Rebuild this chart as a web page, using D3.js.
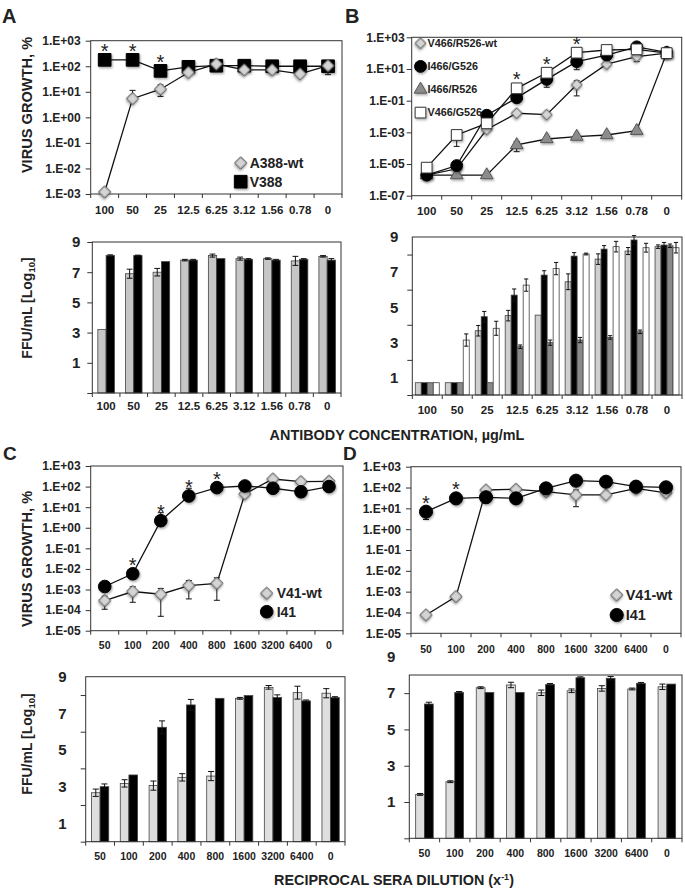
<!DOCTYPE html>
<html><head><meta charset="utf-8">
<script src="https://cdn.jsdelivr.net/npm/d3@7"></script>
<style>
body{margin:0;background:#fff;}
svg{display:block;font-family:"Liberation Sans",Arial,Helvetica,sans-serif;}
</style></head><body>
<svg id="c" width="685" height="889"></svg>
<script>
// ---------- categories ----------
const concLabels = ["100","50","25","12.5","6.25","3.12","1.56","0.78","0"];
const dilLabels  = ["50","100","200","400","800","1600","3200","6400","0"];

// ---------- Panel A (virus growth %) ----------
const aWt     = [1.2e-3, 5.4, 12.6, 57, 122, 72, 72, 50, 105];
const aWtSd   = [0, 6, 6, 5, 20, 5, 5, 5, 58];
const aV388   = [178, 178, 66, 95, 105, 105, 100, 100, 100];
const aV388Sd = [0, 0, 0, 0, 0, 0, 0, 0, 0];
const aStars  = ["100","50","25"];
// Panel A (FFU/mL log10)
const aBarWt     = [3.2, 6.9, 7.0, 7.8, 8.1, 7.9, 7.9, 7.75, 8.05];
const aBarWtSd   = [0, 0.3, 0.25, 0.05, 0.1, 0.1, 0.05, 0.3, 0.05];
const aBarV388   = [8.1, 8.1, 7.7, 7.8, 7.9, 7.85, 7.8, 7.85, 7.8];
const aBarV388Sd = [0.05, 0.03, 0, 0.05, 0, 0.05, 0.05, 0.05, 0.1];

// ---------- Panel B ----------
const bWt   = [2e-6, 5e-6, 1.5e-3, 1.6e-2, 1.3e-2, 1.0, 20, 60, 100];
const bWtSd = [0, 0, 0, 0, 0, 0.8, 0, 31, 0];
const bIG   = [2e-6, 8e-6, 1.2e-2, 0.15, 2.2, 29, 76, 250, 110];
const bIGSd = [0, 4e-6, 0, 0, 1.5, 20, 0, 0, 0];
const bIR   = [2e-6, 2e-6, 2e-6, 1.6e-4, 3.8e-4, 5.4e-4, 6.8e-4, 1.26e-3, 100];
const bIRSd = [0, 0, 0, 1e-4, 0, 0, 0, 0, 0];
const bVG   = [5.9e-6, 6.8e-4, 3.7e-3, 0.6, 5.8, 107, 158, 174, 100];
const bVGSd = [0, 5.5e-4, 0, 0, 0, 0, 0, 0, 0];
const bStars = ["12.5","6.25","3.12"];
const bBarWt   = [0.7, 0.7, 3.66, 4.52, 4.55, 6.45, 7.74, 8.2, 8.45];
const bBarWtSd = [0, 0, 0.3, 0.3, 0, 0.45, 0.3, 0.2, 0.1];
const bBarIG   = [0.7, 0.7, 4.46, 5.69, 6.83, 7.91, 8.31, 8.83, 8.54];
const bBarIGSd = [0, 0, 0.3, 0.35, 0.25, 0.2, 0.2, 0.25, 0.15];
const bBarIR   = [0.7, 0.7, 0.7, 2.75, 2.98, 3.13, 3.28, 3.6, 8.5];
const bBarIRSd = [0, 0, 0, 0.1, 0.15, 0.15, 0.1, 0.1, 0.1];
const bBarVG   = [0.7, 3.13, 3.8, 6.26, 7.2, 8.03, 8.45, 8.39, 8.39];
const bBarVGSd = [0, 0.35, 0.4, 0.35, 0.35, 0.05, 0.3, 0.25, 0.3];

// ---------- Panel C ----------
const cWt    = [2.9e-4, 8e-4, 5.9e-4, 1.55e-3, 2e-3, 44, 234, 174, 180];
const cWtSd  = [1.8e-4, 5.6e-4, 5.4e-4, 1.2e-3, 1.7e-3, 0, 0, 0, 0];
const cI41   = [1.4e-3, 5.8e-3, 2.2, 35, 89, 107, 83, 56, 100];
const cI41Sd = [0, 0, 3.2, 48, 0, 0, 0, 0, 0];
const cStars = ["100","200","400","800"];
const cBarWt    = [2.67, 3.18, 3.06, 3.51, 3.58, 7.82, 8.42, 8.13, 8.1];
const cBarWtSd  = [0.2, 0.2, 0.25, 0.2, 0.25, 0.05, 0.1, 0.35, 0.25];
const cBarI41   = [3.0, 3.64, 6.24, 7.46, 7.82, 7.97, 7.86, 7.68, 7.86];
const cBarI41Sd = [0.15, 0, 0.35, 0.3, 0, 0, 0.15, 0.05, 0.05];

// ---------- Panel D ----------
const dWt    = [7.6e-5, 5.8e-4, 76, 82, 63, 44, 44, 91, 56];
const dWtSd  = [0, 0, 0, 0, 0, 32, 0, 0, 0];
const dI41   = [6.9, 30, 34, 30, 91, 213, 190, 110, 102];
const dI41Sd = [4, 0, 0, 0, 0, 0, 0, 0, 0];
const dStars = ["50","100"];
const dBarWt    = [1.42, 2.12, 7.3, 7.45, 7.02, 7.13, 7.26, 7.23, 7.35];
const dBarWtSd  = [0.05, 0.05, 0.05, 0.15, 0.15, 0.1, 0.15, 0.05, 0.15];
const dBarI41   = [6.4, 7.04, 7.04, 7.04, 7.48, 7.85, 7.82, 7.54, 7.5];
const dBarI41Sd = [0.1, 0.05, 0, 0, 0.05, 0.05, 0.1, 0.05, 0];

// ---------- drawing ----------
const svg = d3.select("#c");
const defs = svg.append("defs");
defs.append("filter").attr("id","sh").attr("x","-60%").attr("y","-60%").attr("width","220%").attr("height","220%")
  .append("feDropShadow").attr("dx",1).attr("dy",1.5).attr("stdDeviation",1).attr("flood-color","#000").attr("flood-opacity",0.35);

const INK = "#222";
function fmtE(v){
  const e = Math.round(Math.log10(v));
  return "1.E" + (e >= 0 ? "+" : "-") + String(Math.abs(e)).padStart(2,"0");
}
function symPath(shape, size){
  const t = {square:d3.symbolSquare, diamond:d3.symbolSquare, circle:d3.symbolCircle, triangle:d3.symbolTriangle}[shape];
  return d3.symbol().type(t).size(size)();
}
function marker(g, shape, size, fill, stroke, cx, cy){
  g.append("path").attr("d", symPath(shape, size))
    .attr("transform", `translate(${cx},${cy})` + (shape==="diamond" ? " rotate(45)" : ""))
    .attr("fill", fill).attr("stroke", stroke).attr("stroke-width", 1)
    .attr("filter","url(#sh)");
}
function styleAxis(sel, fs){
  sel.select(".domain").remove();
  sel.selectAll("text").attr("font-size", fs).attr("font-weight","bold").attr("fill", INK)
     .attr("font-family",'"Liberation Sans",Arial,sans-serif');
  sel.selectAll("line").attr("stroke","#333");
}

function xAxisBand(g, x, yBase, fs, labelCenter){
  const ax = g.append("g").attr("transform",`translate(0,${yBase})`)
    .call(d3.axisBottom(x).tickSize(0).tickPadding(0));
  styleAxis(ax, fs);
  ax.selectAll("text").attr("dy", null).attr("y", labelCenter + 0.36*fs);
  const bounds = x.domain().map(c => x(c)).concat([x.range()[1]]);
  g.append("g").selectAll("line").data(bounds).join("line")
    .attr("x1", d=>d).attr("x2", d=>d).attr("y1", yBase).attr("y2", yBase+4)
    .attr("stroke","#333");
}

function logPanel(o){
  const g = svg.append("g");
  const x = d3.scaleBand().domain(o.cats).range([o.x0, o.x1]);
  const y = d3.scaleLog().domain(o.yDom).range([o.y1, o.y0]);
  const bw = x.bandwidth();
  const cx = c => x(c) + bw/2;
  g.append("rect").attr("x",o.x0).attr("y",o.y0).attr("width",o.x1-o.x0).attr("height",o.y1-o.y0)
    .attr("fill","none").attr("stroke","#333");
  const ya = g.append("g").attr("transform",`translate(${o.x0},0)`)
    .call(d3.axisLeft(y).tickValues(o.yTicks).tickFormat(fmtE).tickSize(5).tickPadding(o.yPad));
  styleAxis(ya, 12);
  xAxisBand(g, x, o.y1, o.xfs, o.xLab);
  const ymin = o.yDom[0];
  o.series.forEach(s => {
    g.append("path").datum(s.vals)
      .attr("d", d3.line().x((v,i)=>cx(o.cats[i])).y(v=>y(v)))
      .attr("fill","none").attr("stroke","#111").attr("stroke-width",1.3);
  });
  o.series.forEach(s => {
    s.vals.forEach((v,i) => {
      const sd = s.sd[i]; if(!sd) return;
      const X = cx(o.cats[i]);
      const hi = y(v+sd);
      const lo = (v - sd) > ymin ? y(v-sd) : null;
      const bot = lo === null ? y(v) : lo;
      g.append("line").attr("x1",X).attr("x2",X).attr("y1",hi).attr("y2",bot).attr("stroke","#111");
      g.append("line").attr("x1",X-3).attr("x2",X+3).attr("y1",hi).attr("y2",hi).attr("stroke","#111");
      if(lo !== null) g.append("line").attr("x1",X-3).attr("x2",X+3).attr("y1",lo).attr("y2",lo).attr("stroke","#111");
    });
  });
  o.order.forEach(k => {
    const s = o.series[k];
    s.vals.forEach((v,i) => marker(g, s.shape, s.size, s.fill, s.stroke, cx(o.cats[i]), y(v)));
  });
  o.stars.forEach(c => {
    const i = o.cats.indexOf(c);
    const top = d3.min(o.series, s => y(s.vals[i] + (s.sd[i]||0)));
    const topM = d3.min(o.series, s => y(s.vals[i]));
    g.append("text").attr("x", cx(c)).attr("y", Math.min(topM - 2, top + 8))
      .attr("text-anchor","middle").attr("font-size",20).attr("fill",INK).text("*");
  });
  o.legend.items.forEach((it,j) => {
    const s = o.series[it];
    const ly = o.legend.y + j*o.legend.dy;
    marker(g, s.shape, s.size, s.fill, s.stroke, o.legend.x, ly);
    g.append("text").attr("x", o.legend.x + o.legend.tx).attr("y", ly + o.legend.fs*0.36)
      .attr("font-size", o.legend.fs).attr("font-weight","bold").attr("fill",INK).text(s.name);
  });
}

function barPanel(o){
  const g = svg.append("g");
  const x = d3.scaleBand().domain(o.cats).range([o.x0, o.x1]);
  const y = d3.scaleLinear().domain(o.yDom).range([o.y1, o.y0]);
  const bw = x.bandwidth();
  const inner = d3.scaleBand().domain(d3.range(o.series.length))
    .range([bw*(1-o.frac)/2, bw*(1+o.frac)/2]);
  const ibw = inner.bandwidth();
  o.series.forEach((s,k) => {
    s.vals.forEach((v,i) => {
      const X = x(o.cats[i]) + inner(k);
      g.append("rect").attr("x",X).attr("y",y(v)).attr("width",ibw).attr("height",y(o.yDom[0])-y(v))
        .attr("fill",s.fill).attr("stroke","#444").attr("stroke-width",0.8);
    });
  });
  o.series.forEach((s,k) => {
    s.vals.forEach((v,i) => {
      const sd = s.sd[i]; if(!sd) return;
      const X = x(o.cats[i]) + inner(k) + ibw/2;
      const c = ibw*0.35;
      g.append("line").attr("x1",X).attr("x2",X).attr("y1",y(v+sd)).attr("y2",y(v-sd)).attr("stroke","#111");
      [v+sd, v-sd].forEach(e => g.append("line").attr("x1",X-c).attr("x2",X+c).attr("y1",y(e)).attr("y2",y(e)).attr("stroke","#111"));
    });
  });
  g.append("rect").attr("x",o.x0).attr("y",o.y0).attr("width",o.x1-o.x0).attr("height",o.y1-o.y0)
    .attr("fill","none").attr("stroke","#333");
  const ta = g.append("g").attr("transform",`translate(${o.x0},0)`)
    .call(d3.axisLeft(y).tickValues(o.tickVals).tickFormat("").tickSize(5));
  styleAxis(ta, 14);
  const la = g.append("g").attr("transform",`translate(${o.x0},0)`)
    .call(d3.axisLeft(y).tickValues(o.labelVals).tickFormat(d3.format("d")).tickSize(0).tickPadding(o.labPad));
  styleAxis(la, 15);
  la.selectAll("line").remove();
  xAxisBand(g, x, o.y1, o.xfs, o.xLab);
}

function vTitle(x, cy, parts, fs){
  const t = svg.append("text").attr("transform",`translate(${x},${cy}) rotate(-90)`)
    .attr("text-anchor","middle").attr("font-size",fs).attr("font-weight","bold").attr("fill",INK);
  parts(t);
}

// Panel A top
logPanel({
  cats: concLabels, x0: 90.7, x1: 342, y0: 40.7, y1: 194, yDom: [1e-3, 1e3],
  yTicks: [1e3,1e2,1e1,1e0,1e-1,1e-2,1e-3], yPad: 5, xfs: 11.5, xLab: 16,
  series: [
    {name:"A388-wt", vals:aWt, sd:aWtSd, shape:"diamond", size:72, fill:"#d4d4d4", stroke:"#555"},
    {name:"V388", vals:aV388, sd:aV388Sd, shape:"square", size:160, fill:"#000", stroke:"#000"}
  ],
  order: [1,0], stars: aStars,
  legend: {items:[0,1], x:240.7, y:163, dy:18.7, tx:9, fs:14}
});
// Panel A bottom
barPanel({
  cats: concLabels, x0: 92.3, x1: 341, y0: 242, y1: 393, yDom: [-1, 9],
  tickVals: [-1,1,3,5,7,9], labelVals: [1,3,5,7,9], labPad: 12, frac: 0.6, xfs: 11.5, xLab: 13,
  series: [
    {vals:aBarWt, sd:aBarWtSd, fill:"#c6c6c6"},
    {vals:aBarV388, sd:aBarV388Sd, fill:"#000"}
  ]
});

// Panel B top
logPanel({
  cats: concLabels, x0: 411.7, x1: 681.7, y0: 37.3, y1: 195.7, yDom: [1e-7, 1e3],
  yTicks: [1e3,1e1,1e-1,1e-3,1e-5,1e-7], yPad: 2, xfs: 11.5, xLab: 15,
  series: [
    {name:"V466/R526-wt", vals:bWt, sd:bWtSd, shape:"diamond", size:60, fill:"#d4d4d4", stroke:"#555"},
    {name:"I466/G526", vals:bIG, sd:bIGSd, shape:"circle", size:110, fill:"#000", stroke:"#000"},
    {name:"I466/R526", vals:bIR, sd:bIRSd, shape:"triangle", size:70, fill:"#8c8c8c", stroke:"#555"},
    {name:"V466/G526", vals:bVG, sd:bVGSd, shape:"square", size:115, fill:"#fff", stroke:"#333"}
  ],
  order: [0,2,1,3], stars: bStars,
  legend: {items:[0,1,2,3], x:420.5, y:43.3, dy:23.1, tx:7, fs:10.8}
});
// Panel B bottom
barPanel({
  cats: concLabels, x0: 412.3, x1: 682, y0: 237, y1: 395, yDom: [0, 9],
  tickVals: [0,2,4,6,8], labelVals: [1,3,5,7,9], labPad: 14, frac: 0.8, xfs: 11.5, xLab: 15,
  series: [
    {vals:bBarWt, sd:bBarWtSd, fill:"#cfcfcf"},
    {vals:bBarIG, sd:bBarIGSd, fill:"#000"},
    {vals:bBarIR, sd:bBarIRSd, fill:"#8a8a8a"},
    {vals:bBarVG, sd:bBarVGSd, fill:"#fff"}
  ]
});

// Panel C top
logPanel({
  cats: dilLabels, x0: 90.7, x1: 343, y0: 466, y1: 630.7, yDom: [1e-5, 1e3],
  yTicks: [1e3,1e2,1e1,1e0,1e-1,1e-2,1e-3,1e-4,1e-5], yPad: 5, xfs: 10.5, xLab: 14.5,
  series: [
    {name:"V41-wt", vals:cWt, sd:cWtSd, shape:"diamond", size:72, fill:"#d4d4d4", stroke:"#555"},
    {name:"I41", vals:cI41, sd:cI41Sd, shape:"circle", size:125, fill:"#000", stroke:"#000"}
  ],
  order: [0,1], stars: cStars,
  legend: {items:[0,1], x:266.7, y:593.3, dy:18.4, tx:10, fs:14}
});
// Panel C bottom
barPanel({
  cats: dilLabels, x0: 85.7, x1: 345, y0: 676.7, y1: 841.7, yDom: [0, 9],
  tickVals: [0,2,4,6,8], labelVals: [1,3,5,7,9], labPad: 19, frac: 0.6, xfs: 10.5, xLab: 15,
  series: [
    {vals:cBarWt, sd:cBarWtSd, fill:"#dedede"},
    {vals:cBarI41, sd:cBarI41Sd, fill:"#000"}
  ]
});

// Panel D top
logPanel({
  cats: dilLabels, x0: 411, x1: 681, y0: 466.7, y1: 633.3, yDom: [1e-5, 1e3],
  yTicks: [1e3,1e2,1e1,1e0,1e-1,1e-2,1e-3,1e-4,1e-5], yPad: 5, xfs: 10.5, xLab: 16,
  series: [
    {name:"V41-wt", vals:dWt, sd:dWtSd, shape:"diamond", size:72, fill:"#d4d4d4", stroke:"#555"},
    {name:"I41", vals:dI41, sd:dI41Sd, shape:"circle", size:135, fill:"#000", stroke:"#000"}
  ],
  order: [0,1], stars: dStars,
  legend: {items:[0,1], x:616.7, y:595, dy:20, tx:9, fs:14.5}
});
// Panel D bottom
barPanel({
  cats: dilLabels, x0: 409.3, x1: 682, y0: 675, y1: 838.3, yDom: [-1, 8],
  tickVals: [-1,1,3,5,7], labelVals: [1,3,5,7,9], labPad: 14, frac: 0.58, xfs: 10.5, xLab: 14.5,
  series: [
    {vals:dBarWt, sd:dBarWtSd, fill:"#dedede"},
    {vals:dBarI41, sd:dBarI41Sd, fill:"#000"}
  ]
});

// axis titles
function growthTitle(t){ t.text("VIRUS GROWTH, %"); }
function ffuTitle(t){
  t.append("tspan").text("FFU/mL [Log");
  t.append("tspan").attr("font-size",9.5).attr("dy",3).text("10");
  t.append("tspan").attr("dy",-3).text("]");
}
vTitle(31.5, 105, growthTitle, 14.6);
vTitle(31.5, 308, ffuTitle, 14);
vTitle(31.5, 559, growthTitle, 14.6);
vTitle(31.5, 744, ffuTitle, 14);

svg.append("text").attr("x",397).attr("y",439.5).attr("text-anchor","middle")
  .attr("font-size",14.4).attr("font-weight","bold").attr("fill",INK).text("ANTIBODY CONCENTRATION, µg/mL");
const rt = svg.append("text").attr("x",394).attr("y",885).attr("text-anchor","middle")
  .attr("font-size",14.4).attr("font-weight","bold").attr("fill",INK);
rt.append("tspan").text("RECIPROCAL SERA DILUTION (x");
rt.append("tspan").attr("font-size",9).attr("dy",-5).text("-1");
rt.append("tspan").attr("dy",5).text(")");

// panel letters
[["A",2,23,20],["B",345,23,20],["C",3,460,19],["D",343,460,19]].forEach(([t,x,y,fs]) =>
  svg.append("text").attr("x",x).attr("y",y).attr("font-size",fs).attr("font-weight","bold").attr("fill",INK).text(t));
</script>
</body></html>
